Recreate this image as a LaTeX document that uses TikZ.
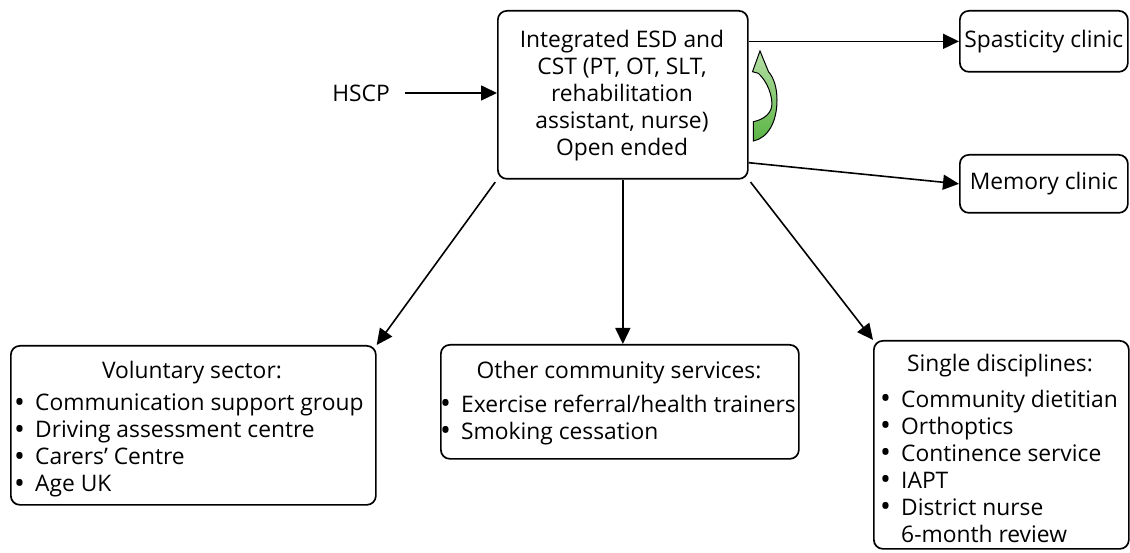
\documentclass[tikz,border=0pt]{standalone}
\usepackage{fontspec}
\setmainfont{Open Sans}
\usetikzlibrary{arrows.meta,calc}
\definecolor{loopLight}{HTML}{B6DFA6}
\definecolor{loopDark}{HTML}{5AB444}
% list bullet: a slightly enlarged dot in a fixed-width slot
\newcommand{\itm}{\makebox[21pt][l]{\raisebox{-1.2pt}{\fontsize{29}{27}\selectfont •}}}
\begin{document}
\begin{tikzpicture}[x=1pt,y=-1pt,
  box/.style={draw, line width=1.7pt, rounded corners=9pt, inner sep=0pt, anchor=north west},
  conn/.style={line width=1.6pt, -{Triangle[length=16pt,width=15pt]}},
  txt/.style={inner sep=0pt, font=\fontsize{22.8}{27}\selectfont},
  loop/.style={draw=black, line width=1pt, top color=loopLight, bottom color=loopDark},
]
\useasboundingbox (0,0) rectangle (1130,553);

% boxes
\node[box, minimum width=250pt, minimum height=168pt] (main) at (497,10) {};
\node[box, minimum width=168pt, minimum height=61pt] (spas) at (959,10) {};
\node[box, minimum width=168pt, minimum height=58pt] (mem) at (959,154) {};
\node[box, minimum width=365pt, minimum height=159pt] (vol) at (10,345) {};
\node[box, minimum width=358pt, minimum height=114pt] (oth) at (440,344) {};
\node[box, minimum width=255pt, minimum height=208pt] (sing) at (873,340) {};

% texts
\node[txt, align=center] (maintxt) at (622,96) {Integrated ESD and\\CST (PT, OT, SLT,\\rehabilitation\\assistant, nurse)\\Open ended};
\node[txt] (spastxt) at (spas.center) {Spasticity clinic};
\node[txt] (memtxt) at (mem.center) {Memory clinic};
\node[txt] (hscp) at (361,93) {HSCP};

\node[txt] (voltitle) at (192,373) {Voluntary sector:};
\node[txt, align=left, anchor=north west] (vollist) at (14,394)
  {\itm Communication support group\\\itm Driving assessment centre\\\itm Carers’ Centre\\\itm Age UK};

\node[txt] (othtitle) at (619,373) {Other community services:};
\node[txt, align=left, anchor=north west] (othlist) at (440,395)
  {\itm Exercise referral/health trainers\\\itm Smoking cessation};

\node[txt] (singtitle) at (1000,366) {Single disciplines:};
\node[txt, align=left, anchor=north west] (singlist) at (880,390)
  {\itm Community dietitian\\\itm Orthoptics\\\itm Continence service\\\itm IAPT\\\itm District nurse\\\hphantom{\itm}6-month review};

% connectors
\draw[conn, shorten <=15pt] (hscp.east) -- (main.west |- hscp.east);
\draw[conn] (main.east |- spas.west) -- (spas.west);
\draw[conn] ([yshift=17pt]main.south east) -- (mem.west);
\draw[conn, shorten <=3pt] (main.south west) -- (vol.north east);
\draw[conn] (main.south) -- (main.south |- oth.north);
\draw[conn, shorten <=3pt] (main.south east) -- (sing.north west);

% curved loop arrow beside the main box
\path[loop] (760,51) -- (752.5,71.7) -- (758.3,73.3)
  .. controls (767,81) and (773,96) .. (771.7,106.7)
  .. controls (770,115) and (762,120) .. (753.3,121.7)
  -- (753.3,141)
  .. controls (768,138) and (777,122) .. (777,100)
  .. controls (777,88) and (774,78) .. (768.5,71.7) -- cycle;
\end{tikzpicture}
\end{document}
